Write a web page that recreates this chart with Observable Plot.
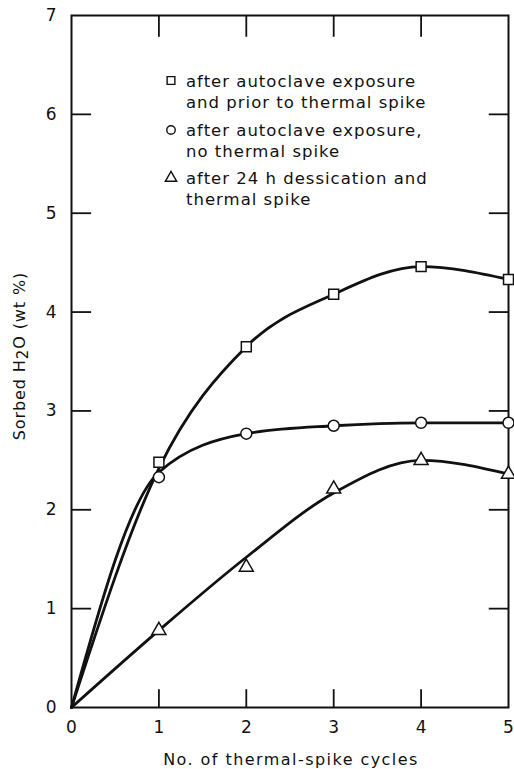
<!DOCTYPE html>
<html><head><meta charset="utf-8">
<script src="https://cdn.jsdelivr.net/npm/d3@7"></script>
<script src="https://cdn.jsdelivr.net/npm/@observablehq/plot@0.6"></script>
<style>body{margin:0;background:#fff} svg{display:block}</style>
</head><body><div id="chart"></div>
<script>
// marker values
const markerCycles = [1, 2, 3, 4, 5];
const squarePts   = [2.48, 3.65, 4.18, 4.46, 4.33];
const circlePts   = [2.33, 2.77, 2.85, 2.88, 2.88];
const trianglePts = [0.78, 1.42, 2.21, 2.50, 2.36];
// drawn (fitted) curves
const curveCycles   = [0, 1, 2, 3, 4, 5];
const squareCurve   = [0, 2.42, 3.65, 4.18, 4.46, 4.33];
const circleCurve   = [0, 2.38, 2.77, 2.85, 2.88, 2.88];
const triangleCurve = [0, 0.78, 1.52, 2.17, 2.50, 2.36];
// ticks
const xTicks = [0, 1, 2, 3, 4, 5];
const yTicks = [0, 1, 2, 3, 4, 5, 6, 7];
const legendLabels = [
  ["after autoclave exposure", "and prior to thermal spike"],
  ["after autoclave exposure,", "no thermal spike"],
  ["after 24 h dessication and", "thermal spike"]
];
const legendSymbols = ["square", "circle", "triangle"];

const series = [
  {name: "square", pts: squarePts, curve: squareCurve},
  {name: "circle", pts: circlePts, curve: circleCurve},
  {name: "triangle", pts: trianglePts, curve: triangleCurve}
];
const lineData = series.flatMap(s => curveCycles.map((x, i) => ({s: s.name, x, y: s.curve[i]})));
const dots = name => {
  const s = series.find(d => d.name === name);
  return markerCycles.map((x, i) => ({x, y: s.pts[i]}));
};
const innerX = xTicks.slice(1, -1);
const innerY = yTicks.slice(1, -1);
const ink = "#111";

const plot = Plot.plot({
  width: 514, height: 769,
  marginLeft: 71, marginRight: 6, marginTop: 15, marginBottom: 62,
  style: {fontFamily: "DejaVu Sans", fontSize: "17px", color: ink, background: "#fff"},
  x: {domain: [0, 5]},
  y: {domain: [0, 7]},
  marks: [
    Plot.axisX({ticks: xTicks, tickSize: 0, tickPadding: 13, fontSize: 17, label: null, tickFormat: d => String(d)}),
    Plot.axisY({ticks: yTicks, tickSize: 0, tickPadding: 15, fontSize: 17, label: null, tickFormat: d => String(d)}),
    Plot.ruleY(innerY, {x1: 0, x2: 0.23, stroke: ink, strokeWidth: 1.8}),
    Plot.ruleY(innerY, {x1: 4.78, x2: 5, stroke: ink, strokeWidth: 1.8}),
    Plot.ruleX(innerX, {y1: 7, y2: 6.78, stroke: ink, strokeWidth: 1.8}),
    Plot.ruleX(innerX, {y1: 0, y2: 0.18, stroke: ink, strokeWidth: 1.8}),
    Plot.frame({stroke: ink, strokeWidth: 2}),
    Plot.line(lineData, {x: "x", y: "y", z: "s", curve: "monotone-x", stroke: ink, strokeWidth: 2.8}),
    Plot.dot(dots("square"), {x: "x", y: "y", symbol: "square", r: 5.6, fill: "white", stroke: ink, strokeWidth: 1.5}),
    Plot.dot(dots("circle"), {x: "x", y: "y", symbol: "circle", r: 5.5, fill: "white", stroke: ink, strokeWidth: 1.5}),
    Plot.dot(dots("triangle"), {x: "x", y: "y", symbol: "triangle", r: 5.2, fill: "white", stroke: ink, strokeWidth: 1.5})
  ]
});
document.getElementById("chart").appendChild(plot);

const svg = d3.select(plot);
// axis titles
svg.append("text")
  .attr("x", 291).attr("y", 765)
  .attr("text-anchor", "middle")
  .attr("font-family", "DejaVu Sans").attr("font-size", 16)
  .attr("letter-spacing", 1.45).attr("fill", ink)
  .text("No. of thermal-spike cycles");
const yl = svg.append("text")
  .attr("transform", "translate(19,356) rotate(-90)")
  .attr("text-anchor", "middle").attr("dominant-baseline", "central")
  .attr("font-family", "DejaVu Sans").attr("font-size", 16)
  .attr("letter-spacing", 0.9).attr("fill", ink);
yl.append("tspan").text("Sorbed H");
yl.append("tspan").attr("font-size", 15).attr("dy", 4).text("2");
yl.append("tspan").attr("dy", -4).text("O (wt %)");

// legend
const lg = svg.append("g").attr("font-family", "DejaVu Sans").attr("font-size", 16.5)
  .attr("fill", ink).attr("text-anchor", "start");
const symMap = {square: d3.symbolSquare, circle: d3.symbolCircle, triangle: d3.symbolTriangle};
const groupY = [86.5, 135.5, 183.5];
const symY = [80.5, 130, 178];
legendLabels.forEach((lines, i) => {
  lg.append("path")
    .attr("d", d3.symbol(symMap[legendSymbols[i]], legendSymbols[i] === "square" ? 60 : 56)())
    .attr("transform", `translate(171,${symY[i]})`)
    .attr("fill", "white").attr("stroke", ink).attr("stroke-width", 1.4);
  lines.forEach((t, j) => {
    lg.append("text").attr("x", 186).attr("y", groupY[i] + j * 21.5)
      .attr("text-anchor", "start")
      .attr("letter-spacing", 1.0).text(t);
  });
});
</script>
</body></html>
